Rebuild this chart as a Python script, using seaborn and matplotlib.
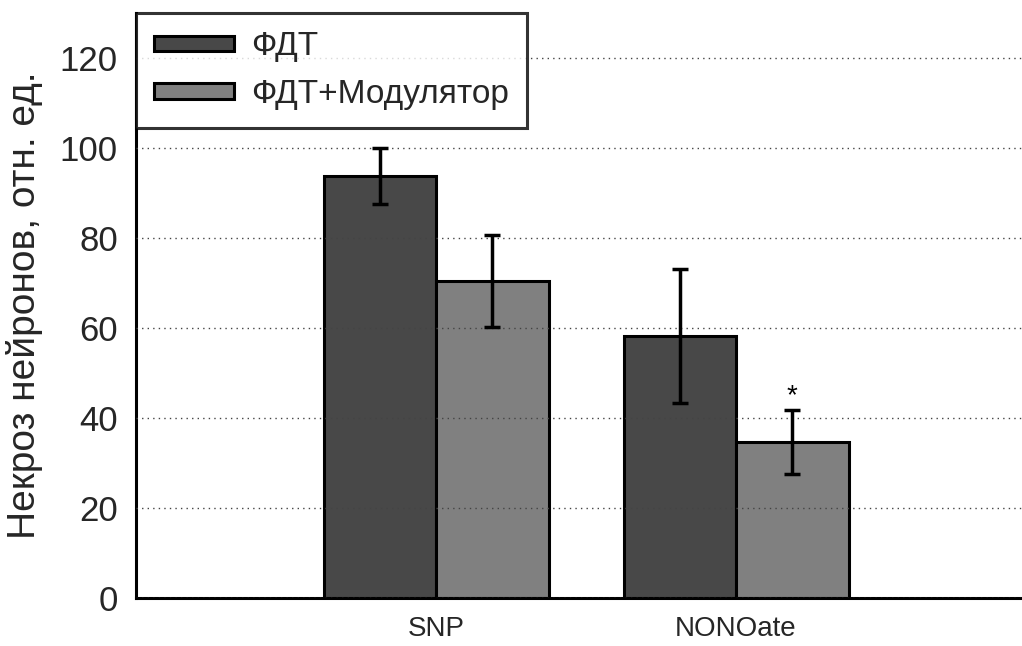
import matplotlib
matplotlib.use("Agg")
import matplotlib.pyplot as plt
import seaborn as sns
import pandas as pd

# Data: neuron necrosis after PDT, with and without modulator
categories = ["SNP", "NONOate"]
groups = ["ФДТ", "ФДТ+Модулятор"]
means_pdt = [93.8, 58.2]
means_mod = [70.4, 34.7]
err_pdt = [6.3, 14.9]
err_mod = [10.2, 7.1]
significant_mod = [False, True]

sns.set_theme(style="white")
plt.rcParams["font.family"] = ["Liberation Sans", "DejaVu Sans"]

df = pd.DataFrame({
    "cat": categories * 2,
    "group": [groups[0]] * 2 + [groups[1]] * 2,
    "val": means_pdt + means_mod,
})

fig = plt.figure(figsize=(10.22, 6.46), dpi=100)
ax = fig.add_axes([136 / 1022, 1 - 598 / 646, 900 / 1022, 585 / 646])

palette = {groups[0]: "#484848", groups[1]: "#808080"}
sns.barplot(data=df, x="cat", y="val", hue="group", order=categories,
            hue_order=groups, palette=palette, width=0.75, gap=0,
            errorbar=None, edgecolor="black", linewidth=2.2,
            saturation=1, ax=ax, zorder=2)

# error bars placed on the bar centres
patches = [p for p in ax.patches if p.get_height() > 0]
patches = sorted(patches, key=lambda p: p.get_x())
order = []
for ci in range(len(categories)):
    order.append((ci, 0))
    order.append((ci, 1))
centres = {}
for p, (ci, gi) in zip(patches, order):
    centres[(ci, gi)] = p.get_x() + p.get_width() / 2
for ci in range(len(categories)):
    for gi, (m, e) in enumerate([(means_pdt, err_pdt), (means_mod, err_mod)]):
        x = centres[(ci, gi)]
        ax.errorbar(x, m[ci], yerr=e[ci], fmt="none", ecolor="black",
                    elinewidth=2.5, capsize=6, capthick=2.5, zorder=4)
    if significant_mod[ci]:
        x = centres[(ci, 1)]
        ax.text(x, means_mod[ci] + err_mod[ci] + 0.1, "*", ha="center",
                va="bottom", fontsize=20, color="black", zorder=5)

ax.set_xlim(-1, 2)
ax.set_ylim(0, 130)
ax.set_yticks(range(0, 121, 20))
ax.yaxis.grid(True, linestyle=(0, (1, 3)), color="#444444", linewidth=1.0)
ax.set_axisbelow(False)
for line in ax.get_ygridlines():
    line.set_zorder(3)

ax.tick_params(axis="y", labelsize=25, length=0, pad=13)
ax.tick_params(axis="x", labelsize=20, length=0, pad=13)
ax.set_xlabel("")
ax.set_ylabel("Некроз нейронов, отн. ед.", fontsize=28, labelpad=12)

for s in ["top", "right"]:
    ax.spines[s].set_visible(False)
for s in ["left", "bottom"]:
    ax.spines[s].set_color("black")
    ax.spines[s].set_linewidth(2.2)

leg = ax.legend(loc="upper left", bbox_to_anchor=(0, 1.0), borderaxespad=0,
                frameon=True, fancybox=False, fontsize=24, handlelength=2.4,
                handleheight=0.35, handletextpad=0.5, labelspacing=0.5,
                borderpad=0.55)
leg.get_frame().set_edgecolor("black")
leg.get_frame().set_linewidth(2.2)
leg.set_zorder(6)

fig.savefig("out.png", dpi=100)
